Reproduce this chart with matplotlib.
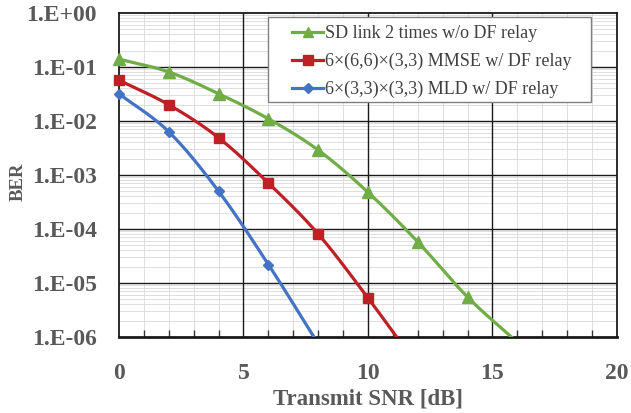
import matplotlib
matplotlib.use("Agg")
from matplotlib import pyplot as plt
from matplotlib.ticker import FixedLocator, NullFormatter
from matplotlib.patches import Rectangle
import numpy as np

# values (last point of each series lies below the axis and is clipped)
snr_sd = [0, 2, 4, 6, 8, 10, 12, 14, 16]
ber_sd = [0.14, 0.081, 0.032, 0.011, 0.0029, 4.8e-4, 5.8e-5, 5.5e-6, 8e-7]

snr_mmse = [0, 2, 4, 6, 8, 10, 12]
ber_mmse = [0.057, 0.020, 0.0049, 7.1e-4, 8.1e-5, 5.3e-6, 2.9e-7]

snr_mld = [0, 2, 4, 6, 8]
ber_mld = [0.032, 0.0063, 5e-4, 2.2e-5, 7.5e-7]

labels = ["SD link 2 times w/o DF relay",
          "6\u00d7(6,6)\u00d7(3,3) MMSE w/ DF relay",
          "6\u00d7(3,3)\u00d7(3,3) MLD w/ DF relay"]
y_ticks = [1e-6, 1e-5, 1e-4, 1e-3, 1e-2, 1e-1, 1e0]
y_tick_labels = ["1.E-06", "1.E-05", "1.E-04", "1.E-03", "1.E-02", "1.E-01", "1.E+00"]
x_ticks = [0, 5, 10, 15, 20]


#Excel like smoothed line, catmull-rom in (x, log y)
def smooth(x, y, n=30):
	x = np.asarray(x, float)
	ly = np.log10(y)
	px = np.concatenate([[2*x[0]-x[1]], x, [2*x[-1]-x[-2]]])
	py = np.concatenate([[2*ly[0]-ly[1]], ly, [2*ly[-1]-ly[-2]]])
	xs, ys = [], []
	t = np.linspace(0, 1, n)
	for i in range(1, len(px)-2):
		for p, out in ((px, xs), (py, ys)):
			p0, p1, p2, p3 = p[i-1], p[i], p[i+1], p[i+2]
			c = 0.5*((2*p1) + (-p0+p2)*t + (2*p0-5*p1+4*p2-p3)*t**2 + (-p0+3*p1-3*p2+p3)*t**3)
			out.extend(c)
	return np.array(xs), 10**np.array(ys)


plt.rcParams['font.family'] = ['Liberation Serif', 'DejaVu Serif']
fig = plt.figure(figsize=(6.31, 4.13), dpi=100)
ax = fig.add_axes([0.1886, 0.184, 0.789, 0.7845])

ymin, ymax = 1e-6, 1
series = [(snr_sd, ber_sd, "#70AD47", "^", 8),
          (snr_mmse, ber_mmse, "#BE2025", "s", 7.5),
          (snr_mld, ber_mld, "#4472C4", "D", 5.5)]
for (x, y, col, mk, ms), lab in zip(series, labels):
	sx, sy = smooth(x, y)
	ax.plot(sx, sy, color=col, linewidth=2.3, zorder=3)
	keep = np.asarray(y) >= ymin
	ax.plot(np.asarray(x)[keep], np.asarray(y)[keep], linestyle='none', marker=mk,
		markersize=ms, color=col, zorder=4, clip_on=False)
	ax.plot([], [], color=col, linewidth=2.3, marker=mk, markersize=ms*0.9, label=lab)

ax.set_yscale('log')
ax.set_xlim(0, 20)
ax.set_ylim(ymin, ymax)
ax.yaxis.set_major_locator(FixedLocator(y_ticks))
ax.set_yticklabels(y_tick_labels)
minor_y = [m*10.0**e for e in range(-6, 0) for m in range(2, 10)]
ax.yaxis.set_minor_locator(FixedLocator(minor_y))
ax.yaxis.set_minor_formatter(NullFormatter())
ax.xaxis.set_major_locator(FixedLocator(x_ticks))
ax.xaxis.set_minor_locator(FixedLocator([v for v in range(1, 20) if v % 5]))

# light minor grid under everything, black major grid drawn on top of it
ax.grid(which='minor', color='#d9d9d9', linewidth=0.6)
ax.set_axisbelow(True)
for v in x_ticks[1:-1]:
	ax.axvline(v, color='#1a1a1a', linewidth=1.0, zorder=2)
for v in y_ticks[1:-1]:
	ax.axhline(v, color='#1a1a1a', linewidth=1.0, zorder=2)

ax.tick_params(axis='y', which='major', length=0, labelsize=17, labelcolor='#595959', pad=16)
ax.tick_params(axis='x', which='major', length=0, labelsize=17, labelcolor='#595959', pad=19)
ax.tick_params(axis='y', which='minor', length=0)
ax.tick_params(axis='x', which='minor', direction='in', length=5, width=1, color='#333333')
for lab in ax.get_xticklabels() + ax.get_yticklabels():
	lab.set_fontweight('bold')
for sp in ax.spines.values():
	sp.set_linewidth(1.3)
	sp.set_color('#1a1a1a')
ax.spines['bottom'].set_linewidth(2)

ax.set_xlabel("Transmit SNR [dB]", fontsize=16.5, fontweight='bold', color='#595959', labelpad=3)
ax.set_ylabel("BER", fontsize=13.5, fontweight='bold', color='#595959')
ax.yaxis.set_label_coords(-0.185, 0.478)

# legend frame drawn apart, Excel puts a wide left margin
ax.add_patch(Rectangle((0.299, 0.725), 0.649, 0.263, transform=ax.transAxes,
	facecolor='white', edgecolor='#808080', linewidth=1.0, zorder=5))
leg = ax.legend(loc='upper left', bbox_to_anchor=(0.347, 0.963), borderaxespad=0,
	fontsize=13, frameon=False, handlelength=1.75, handletextpad=0.1,
	borderpad=0, labelspacing=0.6, labelcolor='#404040')
leg.set_zorder(6)

fig.savefig("out.png", dpi=100)
